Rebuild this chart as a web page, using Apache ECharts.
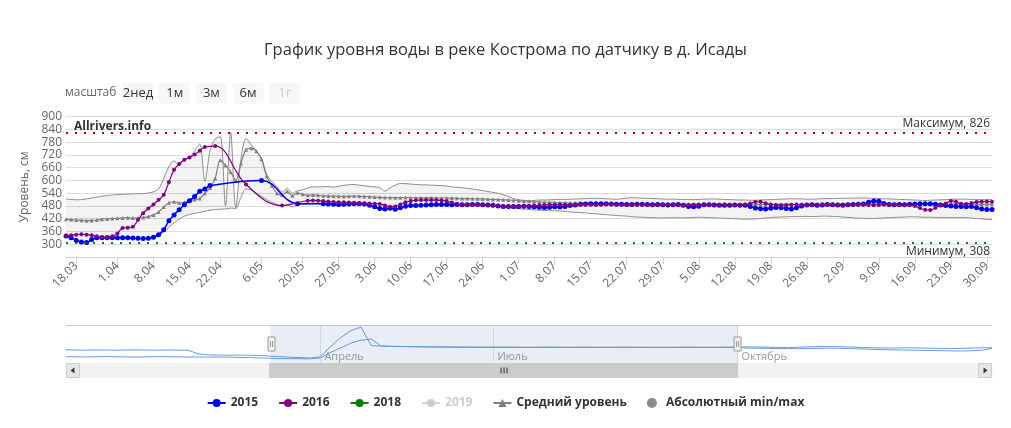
<!DOCTYPE html>
<html><head><meta charset="utf-8">
<script src="https://cdn.jsdelivr.net/npm/echarts@6/dist/echarts.min.js"></script>
<style>html,body{margin:0;padding:0;background:#fff}#c{width:1011px;height:428px}</style>
</head><body><div id="c"></div>
<script>
const categories = ["16.03","17.03","18.03","19.03","21.03","23.03","25.03","27.03","29.03","31.03",
"1.04","2.04","3.04","4.04","5.04","6.04","7.04","8.04","9.04","10.04",
"11.04","12.04","13.04","14.04","15.04","16.04","17.04","18.04","19.04","20.04",
"22.04","24.04","26.04","28.04","30.04","1.05","3.05","5.05","6.05","8.05",
"9.05","11.05","13.05","15.05","17.05","19.05","20.05","21.05","22.05","23.05",
"24.05","25.05","26.05","27.05","28.05","29.05","30.05","31.05","1.06","2.06",
"3.06","4.06","5.06","6.06","7.06","8.06","9.06","10.06","11.06","12.06",
"13.06","14.06","15.06","16.06","17.06","18.06","19.06","20.06","21.06","22.06",
"23.06","24.06","25.06","26.06","27.06","28.06","29.06","30.06","1.07","2.07",
"3.07","4.07","5.07","6.07","7.07","8.07","9.07","10.07","11.07","12.07",
"13.07","14.07","15.07","16.07","17.07","18.07","19.07","20.07","21.07","22.07",
"23.07","24.07","25.07","26.07","27.07","28.07","29.07","30.07","31.07","1.08",
"2.08","3.08","4.08","5.08","6.08","7.08","8.08","9.08","10.08","11.08",
"12.08","13.08","14.08","15.08","16.08","17.08","18.08","19.08","20.08","21.08",
"22.08","23.08","24.08","25.08","26.08","27.08","28.08","29.08","30.08","31.08",
"1.09","2.09","3.09","4.09","5.09","6.09","7.09","8.09","9.09","10.09",
"11.09","12.09","13.09","14.09","15.09","16.09","17.09","18.09","19.09","20.09",
"21.09","22.09","23.09","24.09","25.09","26.09","27.09","28.09","29.09","30.09",
"1.10"];

const tickLabels = ["18.03","1.04","8.04","15.04","22.04","6.05","20.05","27.05","3.06","10.06","17.06","24.06","1.07","8.07","15.07","22.07","29.07","5.08","12.08","19.08","26.08","2.09","9.09","16.09","23.09","30.09"];

const level2015 = [339,331,318,310,308,322,330,330,331,331,
331,330,330,329,328,327,328,333,345,368,
410,438,462,486,505,525,549,560,576,null,
null,null,null,null,null,null,null,null,600,null,
null,null,null,null,null,491,null,null,null,null,
490,489,488,487,488,489,490,490,489,484,
476,468,466,469,465,472,479,482,482,483,
485,486,487,487,487,486,487,486,486,487,
487,486,485,483,480,478,477,477,478,479,
478,476,474,473,474,476,475,478,482,485,
488,489,490,490,491,490,489,488,488,487,
487,488,488,487,486,487,486,485,486,487,
484,477,476,479,486,486,485,484,484,483,
485,484,483,477,470,467,466,469,473,472,
468,466,472,480,485,486,484,485,487,486,
485,484,486,487,488,489,498,503,502,492,
487,486,487,486,488,489,490,491,490,488,
485,482,480,478,477,476,477,472,466,464,
463];

const level2016 = [339,342,345,347,345,342,338,334,334,338,
350,377,378,382,415,446,468,487,509,533,
592,650,677,697,708,722,740,758,null,762,
null,null,null,null,null,581,null,null,null,null,
null,null,482,null,null,null,null,505,506,505,
503,501,499,498,497,496,495,494,493,492,
491,489,482,476,478,487,497,503,507,508,
508,508,508,506,502,496,489,486,486,485,
485,486,485,484,481,478,477,477,477,478,
480,481,483,485,486,486,487,486,485,486,
487,486,486,485,486,487,488,487,486,485,
486,487,486,485,484,485,486,487,486,485,
484,485,486,487,486,485,484,486,487,485,
484,485,487,492,499,500,493,487,485,484,
485,486,487,486,485,484,486,487,488,486,
485,484,485,486,487,486,485,484,485,486,
487,486,485,484,483,480,470,462,461,472,
485,492,504,500,490,489,494,499,500,501,
500];

const level2018 = [];
const level2019 = [];

const levelMean = [417,416,414,413,411,412,414,418,419,421,
422,424,425,423,424,426,430,438,452,475,
495,500,494,498,505,510,515,540,565,610,
696,672,640,600,680,745,752,738,700,620,
575,540,532,548,528,542,535,530,532,530,
528,527,526,526,525,526,527,526,525,524,
522,521,520,520,519,519,520,519,518,519,
518,519,518,517,518,517,516,515,515,514,
514,513,512,511,510,509,508,507,505,503,
502,500,499,498,497,496,495,495,494,494,
493,493,493,492,492,492,491,491,491,491,
490,490,491,490,490,490,489,490,490,489,
489,489,489,488,488,489,488,488,488,487,
487,488,487,487,488,487,487,487,488,488,
488,488,487,488,488,489,488,488,489,489,
489,490,489,490,490,490,491,490,490,490,
490,490,489,489,490,490,489,490,489,489,
489,489,489,490,490,489,489,488,488,488,
488];

const levelMax = [513,511,509,510,513,518,522,526,529,532,
533,535,536,537,538,538,541,547,560,610,
665,692,675,698,708,740,772,595,740,795,
806,480,826,470,700,798,768,740,705,630,
595,570,545,562,540,552,556,565,570,570,
570,572,568,573,577,580,581,578,575,572,
570,566,550,565,578,586,585,583,581,580,
579,578,577,576,574,570,568,566,563,560,
556,552,548,544,540,533,525,515,510,506,
505,506,508,508,509,510,511,511,512,513,
514,515,516,516,515,514,513,512,514,517,
519,518,517,516,515,514,513,512,512,511,
511,510,510,511,512,513,513,512,511,510,
509,508,508,507,507,508,509,510,511,512,
513,514,514,513,512,512,513,514,515,515,
516,516,517,517,517,518,517,516,515,514,
513,512,511,510,509,508,507,506,507,508,
509,510,511,512,512,512,511,511,510,510,
510];

const levelMin = [337,330,317,309,308,318,328,329,330,330,
330,329,329,328,327,326,327,331,340,358,
380,400,418,432,440,445,450,455,460,463,
465,466,470,468,520,560,555,540,525,510,
497,487,482,484,476,487,488,490,491,490,
488,487,486,485,486,487,488,488,487,482,
474,466,464,466,463,470,477,480,480,481,
483,484,485,485,485,484,484,484,484,484,
484,483,482,480,478,476,472,469,467,465,
464,462,460,459,458,457,456,454,452,450,
449,447,445,443,441,439,437,435,434,432,
430,428,427,426,425,424,424,424,425,424,
424,425,426,427,426,425,424,423,422,421,
420,419,418,418,419,421,423,425,427,428,
429,430,430,431,431,430,431,432,432,431,
430,428,426,424,423,422,421,421,422,424,
425,426,427,428,429,429,428,427,427,426,
426,426,425,425,426,425,423,421,419,417,
416];

const absMax = 826;
const absMin = 308;

const navCategories = ["1.01","5.01","9.01","12.01","16.01","20.01","24.01","27.01","31.01","4.02",
"8.02","11.02","15.02","19.02","23.02","26.02","1.03","5.03","9.03","12.03",
"16.03","19.03","22.03","26.03","29.03","1.04","6.04","12.04","17.04","22.04",
"28.04","3.05","9.05","14.05","19.05","25.05","30.05","4.06","10.06","15.06",
"20.06","26.06","1.07","5.07","9.07","12.07","16.07","20.07","24.07","28.07",
"1.08","5.08","9.08","13.08","17.08","20.08","24.08","28.08","1.09","5.09",
"9.09","12.09","16.09","20.09","24.09","28.09","1.10","5.10","8.10","12.10",
"15.10","19.10","23.10","26.10","30.10","3.11","6.11","10.11","13.11","17.11",
"21.11","24.11","28.11","2.12","5.12","9.12","12.12","16.12","20.12","23.12",
"27.12","31.12"];
const navMonthLabels = {"1.04":"Апрель","1.07":"Июль","1.10":"Октябрь"};
const nav2016 = [455,452,450,452,451,450,452,454,451,450,
452,451,450,400,386,384,382,383,381,378,
370,362,355,350,343,360,500,620,715,762,
510,505,502,500,498,496,495,494,493,492,
491,490,490,491,490,489,490,491,490,489,
490,491,490,489,490,491,490,489,488,489,
490,491,490,489,490,491,490,495,493,490,
488,486,490,495,498,500,497,493,488,484,
480,478,480,482,479,476,474,472,474,478,
482,484];
const nav2015 = [362,360,358,361,363,360,358,357,360,362,
361,360,358,357,356,357,355,352,350,345,
340,336,335,334,333,345,420,480,545,585,
600,505,500,498,496,494,492,491,490,490,
489,489,489,488,489,488,487,488,489,488,
487,488,487,488,487,486,487,488,487,486,
487,488,487,486,487,488,487,478,476,474,
472,470,471,472,474,476,475,472,468,462,
458,455,452,450,448,445,444,440,438,442,
448,472];
const navWindow = ["16.03","1.10"];
const rangeButtons = ["2нед","1м","3м","6м","1г"];

const bandDiff = levelMax.map((v, i) => v - levelMin[i]);
const FONT = '"Open Sans", "Noto Sans", sans-serif';

const chart = echarts.init(document.getElementById('c'), null, {renderer: 'canvas'});

const graphicEls = [
  {type:'text', x:65, y:93, z:5, style:{text:'масштаб', fill:'#666666', font:'12px ' + FONT, verticalAlign:'middle'}},
  {type:'line', z:5, shape:{x1:66, y1:325.5, x2:992, y2:325.5}, style:{stroke:'#cccccc', lineWidth:1}},
  {type:'rect', z:1, shape:{x:66, y:363.5, width:926, height:14}, style:{fill:'#f2f2f2', stroke:'#f2f2f2'}},
  {type:'rect', z:2, shape:{x:66.5, y:363.5, width:13, height:14}, style:{fill:'#e6e6e6', stroke:'#cccccc'}},
  {type:'polygon', z:3, shape:{points:[[74.5,367.5],[74.5,373.5],[70.5,370.5]]}, style:{fill:'#333333'}},
  {type:'rect', z:2, shape:{x:978.5, y:363.5, width:13, height:14}, style:{fill:'#e6e6e6', stroke:'#cccccc'}},
  {type:'polygon', z:3, shape:{points:[[983.5,367.5],[983.5,373.5],[987.5,370.5]]}, style:{fill:'#333333'}}
];
rangeButtons.forEach((t, k) => {
  graphicEls.push({type:'group', x:122.5 + k * 36.7, y:82.5, z:5, children:[
    {type:'rect', shape:{x:0, y:0, width:31, height:21, r:2}, style:{fill:'#f7f7f7'}},
    {type:'text', x:15.5, y:10.5, style:{text:t, fill: k === 4 ? '#cccccc' : '#333333', font:'13px ' + FONT, align:'center', verticalAlign:'middle'}}
  ]});
});

const option = {
  animation: false,
  textStyle: {fontFamily: FONT},
  title: [
    {text:'График уровня воды в реке Кострома по датчику в д. Исады', left:'center', top:37,
     textStyle:{fontSize:16.5, fontWeight:'normal', color:'#333333', fontFamily:FONT}},
    {text:'Allrivers.info', left:69, top:116, textStyle:{fontSize:12, fontWeight:'bold', color:'#333333', fontFamily:FONT}}
  ],
  legend: {
    data:[{name:'2015'},{name:'2016'},{name:'2018'},{name:'2019'},{name:'Средний уровень'},{name:'Абсолютный min/max', icon:'circle'}],
    selected:{'2019': false},
    left:'center', top:392, itemGap:20, itemWidth:18, itemHeight:10,
    inactiveColor:'#cccccc',
    textStyle:{fontWeight:'bold', fontSize:12, color:'#333333', fontFamily:FONT}
  },
  grid: [
    {left:66, right:19, top:116.7, bottom:171, outerBoundsMode:'none', containLabel:false},
    {left:66, right:19, top:325, bottom:66, outerBoundsMode:'none', containLabel:false}
  ],
  xAxis: [
    {type:'category', gridIndex:0, data:categories, boundaryGap:false,
     axisLine:{show:true, lineStyle:{color:'#ccd6eb'}},
     axisTick:{show:true, length:7, interval:(i, v) => tickLabels.includes(v), lineStyle:{color:'#ccd6eb'}},
     axisLabel:{interval:(i, v) => tickLabels.includes(v), rotate:45, fontSize:12, color:'#666666', margin:7},
     splitLine:{show:false}},
    {type:'category', gridIndex:1, data:navCategories, boundaryGap:false,
     axisLine:{show:false}, axisTick:{show:false},
     axisLabel:{show:true, inside:true, margin:0, align:'left', padding:[0,0,0,4],
       interval:(i, v) => v in navMonthLabels, formatter:(v) => navMonthLabels[v] || '',
       fontSize:11, color:'#999999'},
     splitLine:{show:true, interval:(i, v) => v in navMonthLabels, lineStyle:{color:'#e6e6e6'}}},
    {type:'category', gridIndex:1, data:navCategories, boundaryGap:false, show:false}
  ],
  yAxis: [
    {type:'value', gridIndex:0, min:240, max:900, interval:60,
     name:'Уровень, см', nameLocation:'middle', nameGap:30, nameRotate:90,
     nameTextStyle:{color:'#666666', fontSize:12},
     axisLine:{show:false}, axisTick:{show:false},
     axisLabel:{formatter:(v) => v < 300 ? '' : String(v), color:'#666666', fontSize:12, margin:4},
     splitLine:{lineStyle:{color:'#dcdcdc'}}},
    {type:'value', gridIndex:1, min:290, max:790, show:false, splitLine:{show:false}},
    {type:'value', gridIndex:1, min:290, max:790, show:false, splitLine:{show:false}}
  ],
  dataZoom: [{
    type:'slider', xAxisIndex:2, left:66, right:19, top:325, height:38,
    startValue:navWindow[0], endValue:navWindow[1], z:10,
    backgroundColor:'rgba(0,0,0,0)', borderColor:'rgba(0,0,0,0)', borderRadius:0,
    fillerColor:'rgba(102,133,194,0.15)',
    showDataShadow:false, showDetail:false, brushSelect:false, realtime:false,
    dataBackground:{lineStyle:{opacity:0}, areaStyle:{opacity:0}},
    selectedDataBackground:{lineStyle:{opacity:0}, areaStyle:{opacity:0}},
    handleIcon:'path://M0,0 L7,0 L7,14 L0,14 Z M2.5,4 L2.5,10 M4.5,4 L4.5,10',
    handleSize:14,
    handleStyle:{color:'#f2f2f2', borderColor:'#999999', borderWidth:1},
    moveHandleSize:0,
    emphasis:{handleStyle:{color:'#f2f2f2', borderColor:'#999999'}}
  }],
  graphic: graphicEls,
  series: [
    {name:'minBase', type:'line', xAxisIndex:0, yAxisIndex:0, data:levelMin, stack:'band', stackStrategy:'all',
     smooth:0.3, symbol:'none', silent:true, z:1,
     lineStyle:{color:'#8c8c8c', width:1}, itemStyle:{color:'#8c8c8c'}},
    {name:'Абсолютный min/max', type:'line', xAxisIndex:0, yAxisIndex:0, data:bandDiff, stack:'band', stackStrategy:'all',
     smooth:0.3, symbol:'none', silent:true, z:1,
     lineStyle:{color:'#8c8c8c', width:1}, itemStyle:{color:'#8c8c8c'},
     areaStyle:{color:'rgba(0,0,0,0.065)'}},
    {name:'Средний уровень', type:'line', xAxisIndex:0, yAxisIndex:0, data:levelMean, smooth:0.3,
     symbol:'triangle', symbolSize:4, showAllSymbol:true, z:2,
     lineStyle:{color:'#808080', width:1.2}, itemStyle:{color:'#808080'},
     markLine:{silent:true, symbol:['none','none'],
       data:[
         {yAxis:absMax, lineStyle:{color:'#b00000', type:[2,7], width:2},
          label:{formatter:'Максимум, ' + absMax, position:'insideEndTop', color:'#333333', fontSize:12, distance:[2,3]}},
         {yAxis:absMin, lineStyle:{color:'#1a7a1a', type:[2,7], width:2},
          label:{formatter:'Минимум, ' + absMin, position:'insideEndBottom', color:'#333333', fontSize:12, distance:[2,3]}}
       ]}},
    {name:'2015', type:'line', xAxisIndex:0, yAxisIndex:0, data:level2015, connectNulls:true, smooth:0.4,
     symbol:'circle', symbolSize:5, showAllSymbol:true, z:3,
     lineStyle:{color:'#0000ee', width:1.5}, itemStyle:{color:'#0000ee'}},
    {name:'2016', type:'line', xAxisIndex:0, yAxisIndex:0, data:level2016, connectNulls:true, smooth:0.4,
     symbol:'circle', symbolSize:4, showAllSymbol:true, z:4,
     lineStyle:{color:'#800080', width:1.2}, itemStyle:{color:'#800080'}},
    {name:'2018', type:'line', xAxisIndex:0, yAxisIndex:0, data:level2018,
     symbol:'circle', symbolSize:4, lineStyle:{color:'#008000', width:1.5}, itemStyle:{color:'#008000'}},
    {name:'2019', type:'line', xAxisIndex:0, yAxisIndex:0, data:level2019,
     symbol:'circle', symbolSize:4, lineStyle:{color:'#cccccc', width:1.5}, itemStyle:{color:'#cccccc'}},
    {name:'nav2016', type:'line', xAxisIndex:1, yAxisIndex:1, data:nav2016, symbol:'none', silent:true,
     lineStyle:{color:'#6b98dd', width:1}, itemStyle:{color:'#6b98dd'}},
    {name:'nav2015', type:'line', xAxisIndex:1, yAxisIndex:1, data:nav2015, symbol:'none', silent:true,
     lineStyle:{color:'#6b98dd', width:1}, itemStyle:{color:'#6b98dd'}},
    {name:'navWindowAxis', type:'line', xAxisIndex:2, yAxisIndex:2, data:nav2015, symbol:'none', silent:true,
     lineStyle:{opacity:0}, itemStyle:{opacity:0}}
  ]
};
chart.setOption(option);

// scrollbar thumb placed from the navigator axis scale
const tx1 = chart.convertToPixel({xAxisIndex:1}, navWindow[0]);
const tx2 = chart.convertToPixel({xAxisIndex:1}, navWindow[1]);
const tmid = (tx1 + tx2) / 2;
const thumbEls = [
  {type:'rect', z:4, shape:{x:tx1, y:363.5, width:tx2 - tx1, height:14}, style:{fill:'#cccccc', stroke:'#cccccc'}},
  {type:'line', z:5, shape:{x1:tmid - 2.5, y1:367.5, x2:tmid - 2.5, y2:373.5}, style:{stroke:'#333333', lineWidth:1}},
  {type:'line', z:5, shape:{x1:tmid + 0.5, y1:367.5, x2:tmid + 0.5, y2:373.5}, style:{stroke:'#333333', lineWidth:1}},
  {type:'line', z:5, shape:{x1:tmid + 3.5, y1:367.5, x2:tmid + 3.5, y2:373.5}, style:{stroke:'#333333', lineWidth:1}}
];
chart.setOption({graphic: graphicEls.concat(thumbEls)});
</script>
</body></html>
